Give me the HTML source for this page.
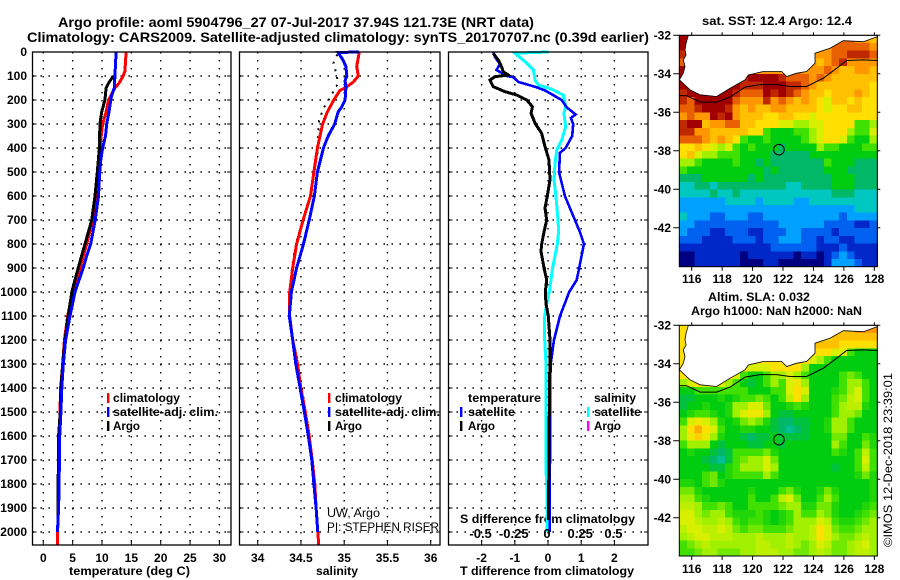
<!DOCTYPE html>
<html lang="en">
<head>
<meta charset="utf-8">
<title>Argo profile 5904796_27</title>
<style>
html,body{margin:0;padding:0;background:#fff;}
svg{display:block;}
text{font-family:"Liberation Sans",Arial,sans-serif;fill:#000;}
.b{font-weight:bold;font-size:12px;}
</style>
</head>
<body>
<svg id="chart" xmlns="http://www.w3.org/2000/svg" width="900" height="580" viewBox="0 0 900 580">
<rect x="0" y="0" width="900" height="580" fill="#fff"/>
<text class="b" style="font-size:14px" x="58" y="27" textLength="476" lengthAdjust="spacingAndGlyphs">Argo profile: aoml 5904796_27 07-Jul-2017 37.94S 121.73E (NRT data)</text>
<text class="b" style="font-size:14px" x="27" y="42" textLength="622" lengthAdjust="spacingAndGlyphs">Climatology: CARS2009. Satellite-adjusted climatology: synTS_20170707.nc (0.39d earlier)</text>
<text class="b" x="69" y="575" textLength="121" lengthAdjust="spacingAndGlyphs">temperature (deg C)</text>
<text class="b" x="316" y="575" textLength="42" lengthAdjust="spacingAndGlyphs">salinity</text>
<text class="b" x="460" y="575" textLength="174" lengthAdjust="spacingAndGlyphs">T difference from climatology</text>
<text class="b" x="460" y="523" textLength="175" lengthAdjust="spacingAndGlyphs">S difference from climatology</text>
<text class="b" x="702" y="25" textLength="150" lengthAdjust="spacingAndGlyphs">sat. SST: 12.4 Argo: 12.4</text>
<text class="b" x="708" y="301" textLength="102" lengthAdjust="spacingAndGlyphs">Altim. SLA: 0.032</text>
<text class="b" x="691" y="315" textLength="171" lengthAdjust="spacingAndGlyphs">Argo h1000: NaN h2000: NaN</text>
<text x="0" y="0" font-size="12" transform="translate(892,547) rotate(-90)" textLength="174" lengthAdjust="spacingAndGlyphs">©IMOS 12-Dec-2018 23:39:01</text>
<text x="327" y="517" font-size="12" textLength="53" lengthAdjust="spacingAndGlyphs">UW, Argo</text>
<text x="327" y="531" font-size="12" textLength="112" lengthAdjust="spacingAndGlyphs">PI: STEPHEN RISER</text>
<g id="layer"></g>
</svg>
<script>
// ---- profile data ----
var depthTicks = [0,100,200,300,400,500,600,700,800,900,1000,1100,1200,1300,1400,1500,1600,1700,1800,1900,2000];
var tempTicks = [0,5,10,15,20,25,30];
var salTicks = [34,34.5,35,35.5,36];
var salTickLabels = ["34","34.5","35","35.5","36"];
var dTTicks = [-2,-1,0,1,2];
var dSTicks = [-0.5,-0.25,0,0.25,0.5];
var dSTickLabels = ["-0.5","-0.25","0","0.25","0.5"];

var tempClimDepth = [0,80,100,130,150,200,250,300,400,500,600,700,800,900,1000,1100,1200,1300,1400,1500,1600,1700,1800,2000,2054];
var tempClim = [14.1,13.9,13.6,12.9,12.2,11.1,10.7,10.1,9.65,9.25,8.95,8.4,7.4,6.25,4.95,4.15,3.6,3.3,2.95,2.85,2.7,2.6,2.55,2.45,2.45];
var tempSatDepth = [0,100,150,180,200,250,300,350,400,450,500,600,700,800,850,900,1000,1100,1200,1300,1400,1500,1600,1700,1800,1900,2000];
var tempSat = [12.4,12.2,12.1,11.65,11.5,11.2,10.8,10.6,10.1,9.8,9.6,9.4,8.85,8.07,7.4,6.8,5.4,4.55,3.8,3.4,3.15,3.0,2.8,2.75,2.7,2.6,2.4];
var tempArgoDepth = [100,130,150,200,250,300,400,500,600,700,800,900,1000,1100,1200,1300,1400,1500,1600,1700,1800,1900,1950];
var tempArgo = [11.9,11.1,10.7,10.5,9.95,9.65,9.55,9.2,8.8,8.25,7.1,5.95,4.85,4.25,3.7,3.3,3.0,2.9,2.6,2.6,2.5,2.5,2.5];

var salClimDepth = [0,60,100,125,150,160,200,250,300,400,500,600,700,800,900,1000,1100,1200,1300,1400,1500,1600,1700,1800,1900,2000,2054];
var salClim = [35.175,35.145,35.163,35.105,35.01,34.95,34.88,34.805,34.75,34.69,34.65,34.61,34.525,34.45,34.405,34.37,34.37,34.405,34.46,34.5,34.55,34.595,34.63,34.66,34.675,34.695,34.705];
var salSatDepth = [0,2,30,60,100,120,150,200,230,250,300,350,400,500,600,700,800,900,1000,1100,1200,1300,1400,1500,1600,1700,1800,1900,2000];
var salSat = [35.17,34.93,34.98,35.02,35.03,35.01,35.02,35.01,34.97,34.93,34.89,34.815,34.76,34.69,34.655,34.595,34.53,34.45,34.39,34.365,34.405,34.44,34.49,34.54,34.585,34.625,34.65,34.675,34.695];
var salArgoDepth = [10,47,90,130,190,235,285,350,420,490,590,700,800,900,1000,1100,1200,1300,1400,1500,1600,1700,1800,1900,1950];
var salArgo = [34.92,34.875,34.91,34.93,34.835,34.76,34.71,34.7,34.69,34.66,34.615,34.52,34.44,34.395,34.375,34.37,34.41,34.47,34.51,34.555,34.6,34.635,34.665,34.68,34.69];

var dTSatDepth = [0,20,50,75,100,105,125,145,160,200,230,260,275,300,350,400,420,500,600,700,750,800,900,950,1000,1100,1200,1300,1400,1500,1600,1700,1800,1900,2000];
var dTSat = [-1.65,-1.6,-1.45,-1.55,-1.24,-1.045,-0.89,-0.39,-0.09,0.41,0.56,0.83,0.69,0.76,0.73,0.53,0.36,0.33,0.51,0.81,0.96,1.08,0.94,0.865,0.64,0.36,0.18,0.08,0.06,0.07,0.07,0.06,0.05,0.05,0.05];
var dTArgoDepth = [5,33,61,82,96,103,117,144,165,179,200,228,256,297,339,394,450,533,600,650,700,750,800,830,870,900,950,1000,1050,1100,1200,1300,1400,1500,1600,1700,1800,1900,1950];
var dTArgo = [-1.65,-1.5,-1.4,-1.35,-1.2,-1.6,-1.75,-1.65,-1.3,-0.94,-0.64,-0.47,-0.51,-0.39,-0.19,-0.09,0.03,0.06,-0.02,-0.09,-0.04,-0.12,-0.19,-0.21,-0.16,-0.12,-0.04,-0.08,-0.06,0.01,0.06,0.06,0.04,0.04,0.03,0.03,0.02,0.02,0.02];
var dSSatDepth = [0,5,40,75,117,137,155,179,228,256,311,367,408,464,533,603,700,750,800,900,1000,1050,1100,1200,1300,1400,1500,1750,1800,2000];
var dSSat = [0.002,-0.25,-0.173,-0.11,-0.098,-0.073,0.028,0.115,0.133,0.12,0.133,0.103,0.066,0.053,0.045,0.06,0.075,0.08,0.07,0.035,0.01,-0.01,-0.025,-0.025,-0.015,-0.015,-0.015,-0.015,-0.008,-0.008];

// ---- map data: colour level per cell, rows north to south ----
var mapLonTicks = [116,118,120,122,124,126,128];
var mapLatTicks = [-32,-34,-36,-38,-40,-42];
var coastLon = [115.78,115.63,115.56,115.63,115.45,115.56,115.45,115.19,115.89,116.55,117.64,118.52,119.5,119.72,120.71,121.91,122.24,122.9,123.55,124.1,124.1,125.09,125.96,127.28,128.2,128.2];
var coastLat = [-32,-32.41,-32.76,-33.02,-33.28,-33.62,-33.97,-34.31,-34.83,-35.09,-35.18,-34.75,-34.31,-34.06,-33.88,-33.88,-34.14,-33.97,-33.88,-33.45,-32.93,-32.67,-32.28,-32.33,-32.07,-32];
var contourLon = [115.19,115.67,116.55,117.64,118.52,119.5,120.49,121.58,122.46,123.55,124.65,125.53,126.18,127.28,128.2];
var contourLat = [-35.13,-35.14,-35.47,-35.47,-35.21,-34.69,-34.56,-34.56,-34.66,-34.66,-34.23,-33.71,-33.31,-33.28,-33.31];
var floatLon = [121.73];
var floatLat = [-37.94];

var sstRows = [
[15,15,12,12,12,12,12,12,12,12,12,12,12,12,12,12,12,12,12,12,13,13,13,12,12,11],
[15,15,12,12,12,12,12,12,12,12,12,12,12,12,12,12,12,12,12,12,13,13,13,13,13,12],
[14,14,12,12,12,12,12,12,12,12,12,12,12,12,12,12,12,12,12,12,13,13,14,14,14,13],
[13,13,12,12,12,12,12,12,12,12,12,12,12,12,12,12,12,12,11,12,13,14,12,12,12,12],
[15,13,12,12,12,12,12,12,12,12,12,12,12,12,12,13,12,12,12,13,12,11,11,12,12,11],
[15,15,15,15,15,15,15,15,14,15,15,15,15,14,13,13,13,12,13,12,11,11,11,11,11,11],
[15,15,15,15,15,15,15,15,14,14,14,15,15,15,14,14,13,12,11,11,11,11,11,11,11,10],
[14,15,15,15,15,15,15,14,13,13,13,15,14,15,14,13,12,11,11,10,11,11,11,12,11,10],
[14,13,15,15,15,15,15,13,12,12,12,14,12,13,12,11,12,11,10,9,11,11,10,11,10,10],
[13,13,14,15,15,15,14,12,11,12,11,11,12,12,11,11,11,11,10,9,10,10,11,11,10,10],
[12,13,12,12,15,14,15,12,11,11,11,10,10,11,11,10,10,9,10,10,10,10,10,10,10,10],
[14,15,15,11,12,12,13,13,11,11,10,10,10,9,9,8,8,9,9,10,10,10,10,7,7,8],
[14,14,12,12,11,11,11,11,11,10,10,7,6,6,6,7,7,8,9,10,10,10,8,7,7,9],
[13,13,13,12,11,12,11,10,7,6,6,7,6,6,6,6,7,8,9,10,10,9,7,6,6,8],
[10,10,11,10,9,8,9,7,6,7,6,6,6,5,6,6,6,6,8,7,7,6,6,6,7,7],
[10,11,9,8,8,7,7,7,6,6,6,6,5,5,5,5,5,6,6,6,6,6,6,6,6,6],
[8,8,7,6,6,6,6,7,6,6,5,6,5,5,5,5,5,5,5,7,6,6,6,5,5,5],
[7,6,6,6,6,6,6,6,6,6,6,5,6,5,5,5,5,5,5,6,6,6,5,5,5,5],
[5,5,5,6,6,6,6,6,6,5,6,5,5,5,5,5,5,5,5,5,6,6,6,5,5,5],
[4,4,5,5,4,5,5,5,5,5,5,5,5,5,4,4,5,5,5,5,6,6,6,5,5,5],
[4,4,4,4,5,4,4,5,4,4,4,4,4,4,4,4,4,4,4,4,5,5,5,4,4,4],
[3,3,3,3,3,3,4,4,4,4,3,4,4,4,4,3,3,4,4,4,4,4,4,4,4,4],
[3,3,3,3,3,3,3,3,3,3,3,3,3,3,3,3,3,3,3,3,3,3,3,4,4,4],
[4,3,3,3,2,2,3,3,3,2,2,3,3,3,3,3,3,3,3,3,3,2,3,3,3,3],
[3,3,2,2,2,2,2,2,2,2,2,2,2,3,3,3,3,3,3,2,2,2,2,1,1,2],
[3,2,2,2,1,1,2,2,2,1,1,2,2,2,3,3,2,2,2,2,1,2,2,2,2,2],
[2,2,2,1,1,1,1,2,2,2,1,2,2,3,3,3,2,2,1,2,2,1,1,2,2,2],
[1,1,1,1,1,1,1,1,1,1,1,1,2,2,2,2,2,2,1,1,1,2,1,1,1,1],
[0,0,1,1,1,1,1,1,0,1,1,1,1,1,1,0,1,1,0,1,2,3,2,1,1,1],
[0,0,1,1,1,1,1,1,0,0,0,1,1,0,0,0,0,0,0,1,3,3,3,2,1,1]
];
var slaRows = [
[10,10,10,10,10,10,10,10,10,10,10,10,10,10,10,10,10,10,10,10,10,11,11,12,12,12],
[10,10,10,10,10,10,10,10,10,10,10,10,10,10,10,10,10,10,10,10,11,11,11,11,11,11],
[10,10,10,10,10,10,10,10,10,10,10,10,10,10,10,10,10,11,11,11,11,10,10,10,10,10],
[10,10,10,10,10,10,10,10,10,10,10,10,10,10,10,10,10,10,10,10,9,9,7,6,6,6],
[10,10,10,10,10,10,10,10,10,10,10,10,10,10,10,10,10,9,8,7,6,6,6,6,6,6],
[10,10,10,10,10,10,10,10,10,9,9,9,10,10,10,10,8,6,6,6,6,6,6,6,6,6],
[10,10,10,10,10,10,10,9,7,6,6,7,8,8,9,8,7,6,6,6,6,7,7.5,7,6,6],
[8,9,10,9,9,9,8,7,6,5.5,6,7,8,7,9,9.5,8,6,6,6,6,7,8,8,7,6],
[6,6,7,7,7,7,7,7,7,6,6,6,7,7,9,10,9,6,6,6,6.5,7,8,9,7,6],
[5.5,5.5,6,6,6,6.5,6,6.5,7,7,7.5,7,6,7,8.5,10,8,6,6,6,7,7.5,8.5,9,7,6],
[5.5,6,6,6.5,6,6,6.5,8,8,9,9,7.5,6,6,6.5,7,6.5,6,6,6,7,8,8.5,8.5,6.5,6],
[6,6.5,7,7,6.5,6,6.5,8,9,9.5,9.5,8,6,5.5,5.5,6,6,6,6,6,7,8,8,7.5,6,6],
[7,9,9.5,9,8,6.5,6,6.5,7.5,8,7.5,6.5,5.5,5,5,5.5,5.5,6,6,6.5,8,8,7,6,6,6],
[8,10,11.5,10,9,7,6,6,6.5,6.5,6,6,5.5,5,4.5,5,5.5,6,6,6.5,8,8,7,6,6,6],
[8,9.5,10.5,9.5,8,6.5,6,6,5.5,5,5.5,5.5,6,5.5,5.5,5.5,5.5,6,6,6,7.5,7.5,6,6,7,6.5],
[7,8,8,8,6,5.5,6,6,6,5.5,5.5,6,6,5.5,6,6,6,6,6,6,8,7,6,6,7.5,6.5],
[6,6.5,6,6,5.5,5,5.5,7,7,7,7,7.5,6.5,6,6,6,6,6,6,6,7,6.5,6,7,8.5,7],
[6,6,6,5.5,5,4.5,5.5,7,7.5,8,8,9,7.5,6,6,6,6,6,6,6,6,6,6,7,9,7],
[6,6,6,6,5.5,5.5,6.5,7,8,8,8,9,8,6,6,6,6,6,6,6,5.5,6,6,7,8.5,7],
[6,6,6,7,7.5,6,6.5,7,7,7,7,8,7,6,6,6,6,6,6,6,6,6,6,6.5,7.5,6.5],
[6.5,6.5,6,7,7.5,6.5,6,6,6,6,6,6,6,6,6,6,6,6,6,6,6,6,6,6,6,6.5],
[7.5,7.5,6.5,6,6,6,6,6,6,6.5,6,6,6,7,7.5,6.5,6,6,6.5,7.5,6.5,6,6,6,6,6.5],
[8,8,7,6.5,6,6,6,6,6,7,6,6,7,8.5,9,7.5,6,6,7,8,7,6,6,6,6,6.5],
[8.5,8.5,8,7,7,7.5,7,6,6,7,7,7,7,7.5,8,8,6.5,6.5,7.5,7.5,6.5,6,6,6,6.5,7],
[9,9,8,7.5,8,8,7,6.5,6.5,6.5,7,6.5,6,6.5,7,8,7,7,8,7.5,6.5,6,6,6.5,7,7.5],
[9,9,8.5,8,8,8.5,8,7,6.5,7,7,6.5,6,6.5,7,8,8,8,9,8.5,7,6.5,6.5,7,7.5,8],
[8.5,9,9,8.5,8.5,9,8.5,7.5,7,7.5,7.5,7,7,7,7.5,8,8,8.5,10,9,7.5,7,7,7.5,8,8],
[8,8.5,9,9,8.5,8.5,8.5,8,8,8,8.5,8,8,8,8.5,8,8,8.5,10,9,8,7.5,7.5,8,8.5,8],
[7,7.5,8,8.5,8,8,8,8,8,8,8.5,8.5,8,8,8.5,8,7.5,8,9,8.5,7.5,7.5,8,8.5,9,8],
[7,7,7.5,8,8,7.5,7.5,7.5,8,8,8.5,8.5,8.5,8,8,7.5,7.5,8,8.5,8,7.5,7.5,8,8.5,8.5,8]
];

var palette = ["#000080","#0028c8","#0060f0","#00a0ff","#00c8c0","#00b868","#00cc10","#40e000","#a0f000","#d8f000","#ffe000","#ffc000","#ff9800","#e86000","#c02800","#a00000"];

// ---- drawing ----
var NS = "http://www.w3.org/2000/svg";
var layer = document.getElementById("layer");
function mk(tag, attrs, parent) {
  var el = document.createElementNS(NS, tag);
  for (var k in attrs) el.setAttribute(k, attrs[k]);
  (parent || layer).appendChild(el);
  return el;
}
function hex(c){return [parseInt(c.substr(1,2),16),parseInt(c.substr(3,2),16),parseInt(c.substr(5,2),16)];}
function levelColor(v){
  var v2 = Math.max(0, Math.min(palette.length-1, v));
  var i = Math.floor(v2), f = v2-i;
  var a = hex(palette[i]), b = hex(palette[Math.min(i+1,palette.length-1)]);
  return "rgb("+Math.round(a[0]+(b[0]-a[0])*f)+","+Math.round(a[1]+(b[1]-a[1])*f)+","+Math.round(a[2]+(b[2]-a[2])*f)+")";
}
function yDepth(d){return 52+0.24*d;}
var PT=52, PB=545;
function xTemp(t){return 43.3+5.87*t;}
function xSal(s){return 257.7+86.5*(s-34);}
function xDT(t){return 548+33.2*t;}
function xDS(s){return 548+132.8*s;}

function drawPanel(name, left, right, xTicks, xFn) {
  var g = mk("g", {});
  
  
  xTicks.forEach(function(t){
    var x = xFn(t);
    var gl = mk("line", {x1:x,x2:x,y1:PT,y2:PB,stroke:"#000","stroke-width":1.4,"stroke-dasharray":"1.5 6.5"}, g);
    
    
    var tk = mk("line", {x1:x,x2:x,y1:PB-4,y2:PB,stroke:"#000","stroke-width":1}, g);
    
    
  });
  depthTicks.forEach(function(d){
    if (d === 0) return;
    var y = yDepth(d);
    var gl = mk("line", {x1:left,x2:right,y1:y,y2:y,stroke:"#000","stroke-width":1.4,"stroke-dasharray":"1.5 6.5"}, g);
    
    
    var tk = mk("path", {d:"M"+left+" "+y+"h4M"+right+" "+y+"h-4",stroke:"#000","stroke-width":1,fill:"none"}, g);
    
    
  });
  return g;
}
function frame(name,left,right){
  var f = mk("rect", {x:left,y:PT,width:right-left,height:PB-PT,fill:"none",stroke:"#000","stroke-width":1.3});
  
  
}
function drawLine(name, depths, vals, xFn, color, width, dash) {
  var pts = depths.map(function(d,i){return xFn(vals[i]).toFixed(1)+","+yDepth(d).toFixed(1);}).join(" ");
  var attrs = {points:pts,fill:"none",stroke:color,"stroke-width":width,"stroke-linejoin":"miter","shape-rendering":"crispEdges"};
  if (dash) attrs["stroke-dasharray"] = dash;
  var el = mk("polyline", attrs);
  
  
}
function label(name, txt, x, y, anchor, len) {
  var el = mk("text", {x:x,y:y,"text-anchor":anchor||"start","class":"b"});
  if (len) {
    el.setAttribute("textLength", len);
    el.setAttribute("lengthAdjust", "spacingAndGlyphs");
  }
  el.textContent = txt;
  
  
  return el;
}
function legendRow(name, txt, barX, textX, y, color, len) {
  if (color) {
    var bar = mk("rect", {x:barX-1,y:y-9,width:2.4,height:10,fill:color});
    
    
  }
  label(name + "-label", txt, textX, y, "start", len);
}

// Panels
drawPanel("temperature", 32.5, 231, tempTicks, xTemp);
drawLine("temperature-climatology-line", tempClimDepth, tempClim, xTemp, "#ff0000", 3);
drawLine("temperature-argo-line", tempArgoDepth, tempArgo, xTemp, "#000000", 3);
drawLine("temperature-satellite-line", tempSatDepth, tempSat, xTemp, "#0000ff", 3);
frame("temperature",32.5,231);

drawPanel("salinity", 239.5, 440, salTicks, xSal);
drawLine("salinity-argo-line", salArgoDepth, salArgo, xSal, "#000000", 2, "2 6");
drawLine("salinity-climatology-line", salClimDepth, salClim, xSal, "#ff0000", 3);
drawLine("salinity-satellite-line", salSatDepth, salSat, xSal, "#0000ff", 3);
frame("salinity",239.5,440);

drawPanel("difference", 448.5, 648, dTTicks, xDT);
drawLine("salinity-satellite-difference-line", dSSatDepth, dSSat, xDS, "#00ffff", 3);
drawLine("temperature-satellite-difference-line", dTSatDepth, dTSat, xDT, "#0000ff", 2.6);
drawLine("temperature-argo-difference-line", dTArgoDepth, dTArgo, xDT, "#000000", 3);
frame("difference",448.5,648);

// Tick labels
depthTicks.forEach(function(d){ label("depth-tick-label", String(d), 27, yDepth(d)+4, "end"); });
tempTicks.forEach(function(t){ label("temperature-tick-label", String(t), xTemp(t), 562, "middle"); });
salTicks.forEach(function(s,i){ label("salinity-tick-label", salTickLabels[i], xSal(s), 562, "middle"); });
dTTicks.forEach(function(t){ label("t-difference-tick-label", String(t), xDT(t), 562, "middle"); });
dSTicks.forEach(function(s,i){
  var el = label("s-difference-tick-label", dSTickLabels[i], xDS(s)-1, 538, "middle");
  el.style.fontSize = "13px";
});

// Legends
legendRow("temperature-legend-climatology","climatology",108,113,402,"#ff0000",67);
legendRow("temperature-legend-satellite","satellite-adj. clim.",108,113,416,"#0000ff",105);
legendRow("temperature-legend-argo","Argo",108,113,430,"#000000",27);
legendRow("salinity-legend-climatology","climatology",329,335,402,"#ff0000",67);
legendRow("salinity-legend-satellite","satellite-adj. clim.",329,335,416,"#0000ff",105);
legendRow("salinity-legend-argo","Argo",329,335,430,"#000000",27);
legendRow("difference-legend-temperature-header","temperature",461,468,402,null,73);
legendRow("difference-legend-t-satellite","satellite",461,468,416,"#0000ff",47);
legendRow("difference-legend-t-argo","Argo",461,468,430,"#000000",27);
legendRow("difference-legend-salinity-header","salinity",588,594,402,null,42);
legendRow("difference-legend-s-satellite","satellite",588,594,416,"#00ffff",47);
legendRow("difference-legend-s-argo","Argo",588,594,430,"#ff00ff",27);

// Maps
var ML=679.3, MR=877.3, LON0=116, LONS=15.22;
function xLon(lon){return 691.7+(lon-LON0)*LONS;}
function drawMap(name, rows, top, bottom, labelY) {
  var g = mk("g", {});
  
  
  var nr = rows.length, nc = rows[0].length;
  var cw = (MR-ML)/nc, ch = (bottom-top)/nr;
  var scale = 19.25;
  function yLat(lat){return top+(-32-lat)*scale;}
  rows.forEach(function(row,j){
    row.forEach(function(v,i){
      var c = mk("rect", {x:(ML+i*cw).toFixed(2),y:(top+j*ch).toFixed(2),width:(cw+0.5).toFixed(2),height:(ch+0.5).toFixed(2),fill:levelColor(v),"shape-rendering":"crispEdges"}, g);
      
      
    });
  });
  var coastPts = coastLon.map(function(lon,i){return xLon(lon).toFixed(1)+","+yLat(coastLat[i]).toFixed(1);});
  var land = mk("polygon", {points:coastPts.join(" "),fill:"#fff",stroke:"#000","stroke-width":0.8}, g);
  
  
  var contour = mk("polyline", {points:contourLon.map(function(lon,i){return xLon(lon).toFixed(1)+","+yLat(contourLat[i]).toFixed(1);}).join(" "),fill:"none",stroke:"#000","stroke-width":1}, g);
  
  
  floatLon.forEach(function(lon,i){
    var m = mk("circle", {cx:xLon(lon),cy:yLat(floatLat[i]),r:5.3,fill:"none",stroke:"#000","stroke-width":1}, g);
    
    
  });
  var fr = mk("rect", {x:ML,y:top,width:MR-ML,height:bottom-top,fill:"none",stroke:"#000","stroke-width":1}, g);
  
  
  mapLonTicks.forEach(function(lon){
    var x = xLon(lon);
    var t = mk("path", {d:"M"+x+" "+bottom+"v4M"+x+" "+top+"v-3",stroke:"#000","stroke-width":1,fill:"none"}, g);
    
    
    label(name + "-lon-label", String(lon), x, labelY, "middle");
  });
  mapLatTicks.forEach(function(lat){
    var y = yLat(lat);
    var t = mk("path", {d:"M"+ML+" "+y+"h-6M"+MR+" "+y+"h3",stroke:"#000","stroke-width":1,fill:"none"}, g);
    
    
    label(name + "-lat-label", String(lat), 671, y+4, "end");
  });
}
drawMap("sst", sstRows, 35.3, 266.7, 283);
drawMap("sla", slaRows, 325.3, 556, 573);
</script>
</body>
</html>
